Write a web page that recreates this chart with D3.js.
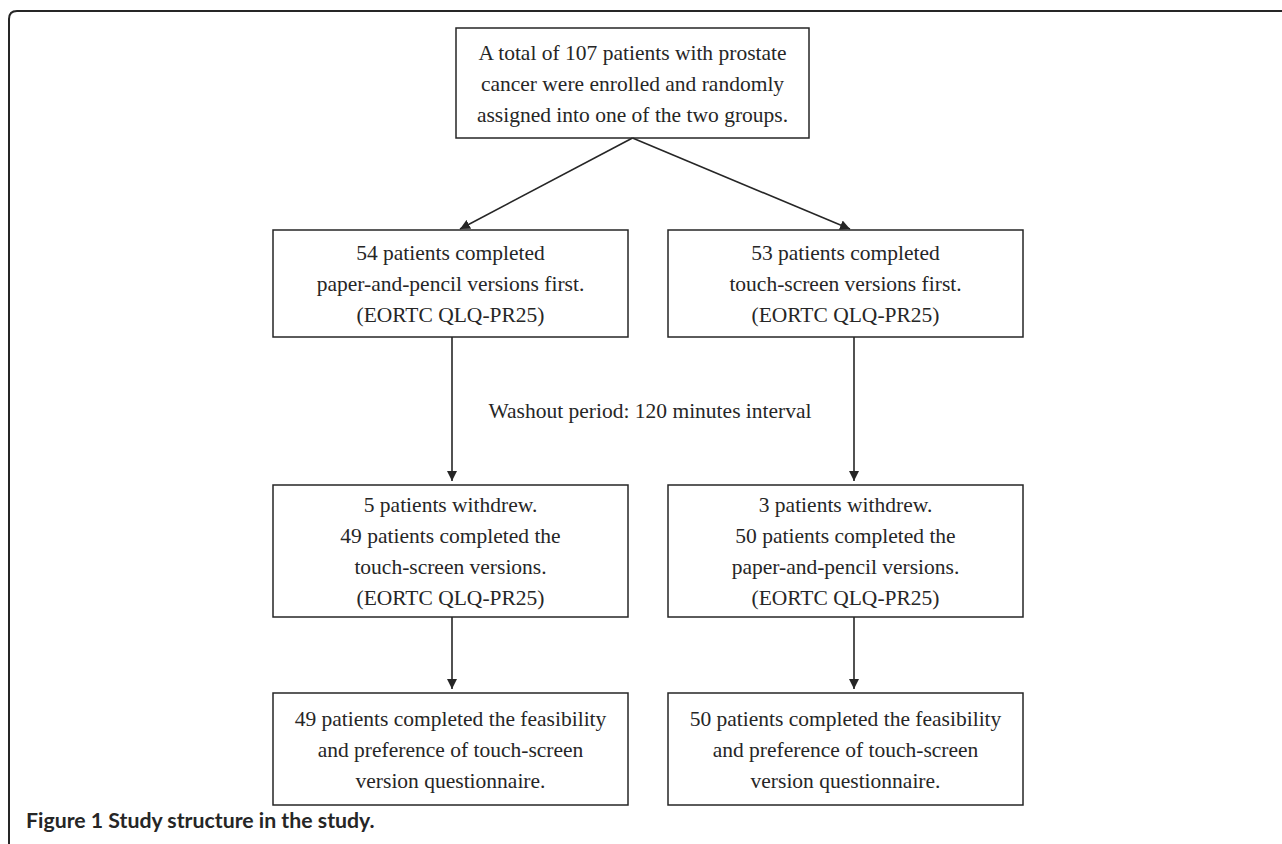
<!DOCTYPE html>
<html>
<head>
<meta charset="utf-8">
<script src="https://cdn.jsdelivr.net/npm/d3@7"></script>
<style>
  body { margin: 0; background: #fff; }
  svg { display: block; }
</style>
</head>
<body>
<script>
// flowchart content
const topBox = ['A total of 107 patients with prostate', 'cancer were enrolled and randomly', 'assigned into one of the two groups.']
const leftBoxes = [
  ['54 patients completed', 'paper-and-pencil versions first.', '(EORTC QLQ-PR25)'],
  ['5 patients withdrew.', '49 patients completed the', 'touch-screen versions.', '(EORTC QLQ-PR25)'],
  ['49 patients completed the feasibility', 'and preference of touch-screen', 'version questionnaire.']
]
const rightBoxes = [
  ['53 patients completed', 'touch-screen versions first.', '(EORTC QLQ-PR25)'],
  ['3 patients withdrew.', '50 patients completed the', 'paper-and-pencil versions.', '(EORTC QLQ-PR25)'],
  ['50 patients completed the feasibility', 'and preference of touch-screen', 'version questionnaire.']
]
const washoutLabel = 'Washout period: 120 minutes interval'
const captionBold = 'Figure 1'
const captionText = 'Study structure in the study.'

const w = 1282
const h = 844
const ink = '#262626'
const lineGap = 31
const serif = '"Liberation Serif", "Times New Roman", serif'

const svg = d3.select('body')
  .append('svg')
  .attr('width', w)
  .attr('height', h)

svg.append('defs').append('marker')
  .attr('id', 'head')
  .attr('viewBox', '0 0 10 10')
  .attr('refX', 10)
  .attr('refY', 5)
  .attr('markerWidth', 10)
  .attr('markerHeight', 10)
  .attr('markerUnits', 'userSpaceOnUse')
  .attr('orient', 'auto')
  .append('path')
  .attr('d', 'M0,0L10,5L0,10Z')
  .attr('fill', ink)

// outer frame (top + left edge with a rounded corner)
svg.append('path')
  .attr('d', 'M1282,11H17Q9,11 9,19V844')
  .attr('fill', 'none')
  .attr('stroke', ink)
  .attr('stroke-width', 2)

// rows and columns of the layout
const rows = [[28, 138], [230, 337], [485, 617], [693, 805]]
const cols = { top: [456, 809], left: [273, 628], right: [668, 1023] }

const boxes = [{ col: 'top', row: 0, lines: topBox }]
leftBoxes.forEach((lines, i) => boxes.push({ col: 'left', row: i + 1, lines }))
rightBoxes.forEach((lines, i) => boxes.push({ col: 'right', row: i + 1, lines }))

const g = svg.selectAll('g.box')
  .data(boxes)
  .enter()
  .append('g')
  .attr('class', 'box')

g.append('rect')
  .attr('x', d => cols[d.col][0])
  .attr('y', d => rows[d.row][0])
  .attr('width', d => cols[d.col][1] - cols[d.col][0])
  .attr('height', d => rows[d.row][1] - rows[d.row][0])
  .attr('fill', 'none')
  .attr('stroke', ink)
  .attr('stroke-width', 1.5)

g.each(function (d) {
  const cx = (cols[d.col][0] + cols[d.col][1]) / 2
  const cy = (rows[d.row][0] + rows[d.row][1]) / 2
  const y0 = cy - (d.lines.length - 1) * lineGap / 2
  d3.select(this).selectAll('text')
    .data(d.lines)
    .enter()
    .append('text')
    .attr('x', cx)
    .attr('y', (t, i) => y0 + i * lineGap)
    .attr('dy', '0.35em')
    .attr('text-anchor', 'middle')
    .attr('font-family', serif)
    .attr('font-size', 21.5)
    .attr('fill', ink)
    .text(t => t)
})

// connectors
const topCx = (cols.top[0] + cols.top[1]) / 2
const arrows = [
  [[topCx, rows[0][1]], [460, rows[1][0] - 1]],
  [[topCx, rows[0][1]], [850, rows[1][0] - 1]],
  [[452, rows[1][1]], [452, rows[2][0] - 4]],
  [[854, rows[1][1]], [854, rows[2][0] - 4]],
  [[452, rows[2][1]], [452, rows[3][0] - 4]],
  [[854, rows[2][1]], [854, rows[3][0] - 4]]
]

svg.selectAll('path.arrow')
  .data(arrows)
  .enter()
  .append('path')
  .attr('class', 'arrow')
  .attr('d', d3.line())
  .attr('fill', 'none')
  .attr('stroke', ink)
  .attr('stroke-width', 1.6)
  .attr('marker-end', 'url(#head)')

svg.append('text')
  .attr('x', 650)
  .attr('y', 410)
  .attr('dy', '0.35em')
  .attr('text-anchor', 'middle')
  .attr('font-family', serif)
  .attr('font-size', 21.5)
  .attr('fill', ink)
  .text(washoutLabel)

const cap = svg.append('text')
  .attr('x', 26)
  .attr('y', 828)
  .attr('font-family', 'Lato, "Open Sans", sans-serif')
  .attr('font-weight', 'bold')
  .attr('font-size', 21)
  .attr('fill', ink)
cap.append('tspan').text(captionBold + ' ')
cap.append('tspan').text(captionText)

// fit the caption to the width it has in the figure
const capW = cap.node().getComputedTextLength()
cap.attr('font-size', 21 * 349 / capW)
</script>
</body>
</html>
